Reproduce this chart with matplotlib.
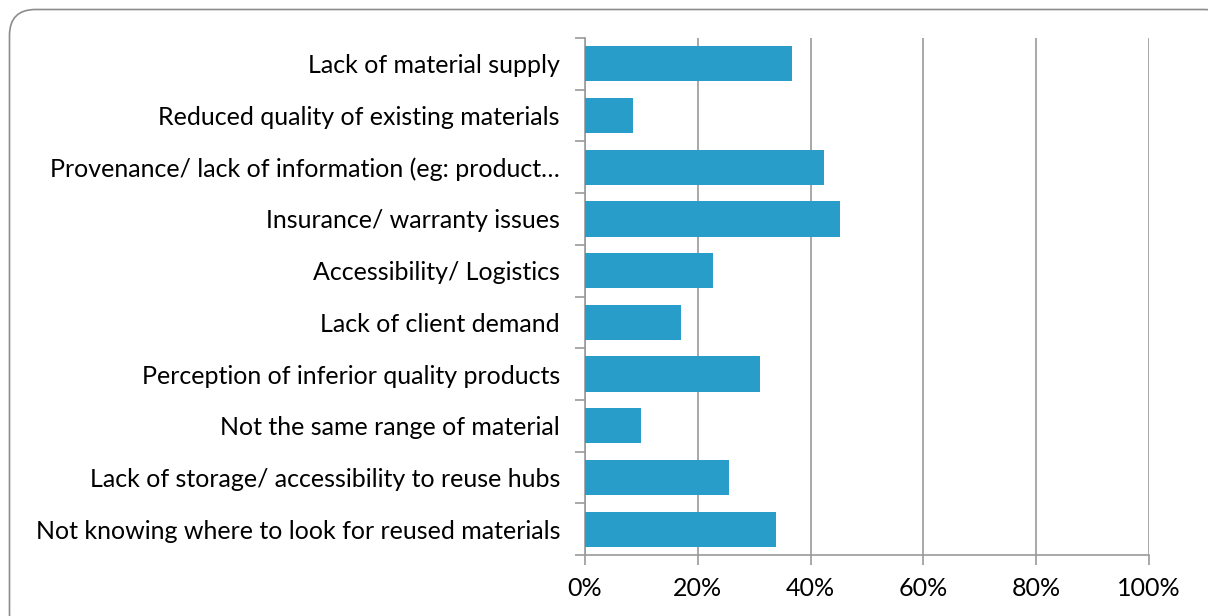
import matplotlib
matplotlib.use("Agg")
import matplotlib.pyplot as plt
from matplotlib.patches import FancyBboxPatch
from matplotlib.ticker import PercentFormatter

categories = [
    "Lack of material supply",
    "Reduced quality of existing materials",
    "Provenance/ lack of information (eg: product\u2026",
    "Insurance/ warranty issues",
    "Accessibility/ Logistics",
    "Lack of client demand",
    "Perception of inferior quality products",
    "Not the same range of material",
    "Lack of storage/ accessibility to reuse hubs",
    "Not knowing where to look for reused materials",
]
shares = [36.7, 8.5, 42.4, 45.2, 22.7, 17.0, 31.0, 9.9, 25.5, 33.9]
x_ticks = [0, 20, 40, 60, 80, 100]

bar_color = "#299DC9"
grid_color = "#9A9A9A"
plt.rcParams["font.family"] = ["Lato", "DejaVu Sans"]

W, H = 1208, 616
fig = plt.figure(figsize=(W / 100, H / 100), dpi=100)

# background layer in pixel units holding the rounded frame
bg = fig.add_axes([0, 0, 1, 1], zorder=-1)
bg.set_xlim(0, W)
bg.set_ylim(H, 0)
bg.axis("off")
frame = FancyBboxPatch((9.5, 9.5), 1230 - 9.5, 640 - 9.5,
                       boxstyle="round,pad=0,rounding_size=26",
                       facecolor="white", edgecolor="#8C8C8C", linewidth=1.2)
bg.add_patch(frame)

ax = fig.add_axes([585 / W, 1 - 555 / H, (1149 - 585) / W, (555 - 38) / H])
ax.set_facecolor("none")

y = list(range(len(categories)))
ax.barh(y, shares, height=0.68, color=bar_color, zorder=3)
ax.set_ylim(len(categories) - 0.5, -0.5)
ax.set_xlim(0, 100)

ax.set_yticks(y)
ax.set_yticklabels(categories, fontsize=18, color="black")
ax.set_yticks([i - 0.5 for i in range(len(categories) + 1)], minor=True)
ax.tick_params(axis="y", which="major", length=0, pad=18)
ax.tick_params(axis="y", which="minor", length=7, color=grid_color, width=1.2)

ax.set_xticks(x_ticks)
ax.xaxis.set_major_formatter(PercentFormatter(decimals=0))
ax.tick_params(axis="x", length=7, color=grid_color, width=1.2, labelsize=18, pad=9)

ax.grid(axis="x", color=grid_color, linewidth=1.2, zorder=1)
for side in ("top", "right"):
    ax.spines[side].set_visible(False)
for side in ("left", "bottom"):
    ax.spines[side].set_color(grid_color)
    ax.spines[side].set_linewidth(1.2)

fig.savefig("out.png", dpi=100, facecolor="white")
